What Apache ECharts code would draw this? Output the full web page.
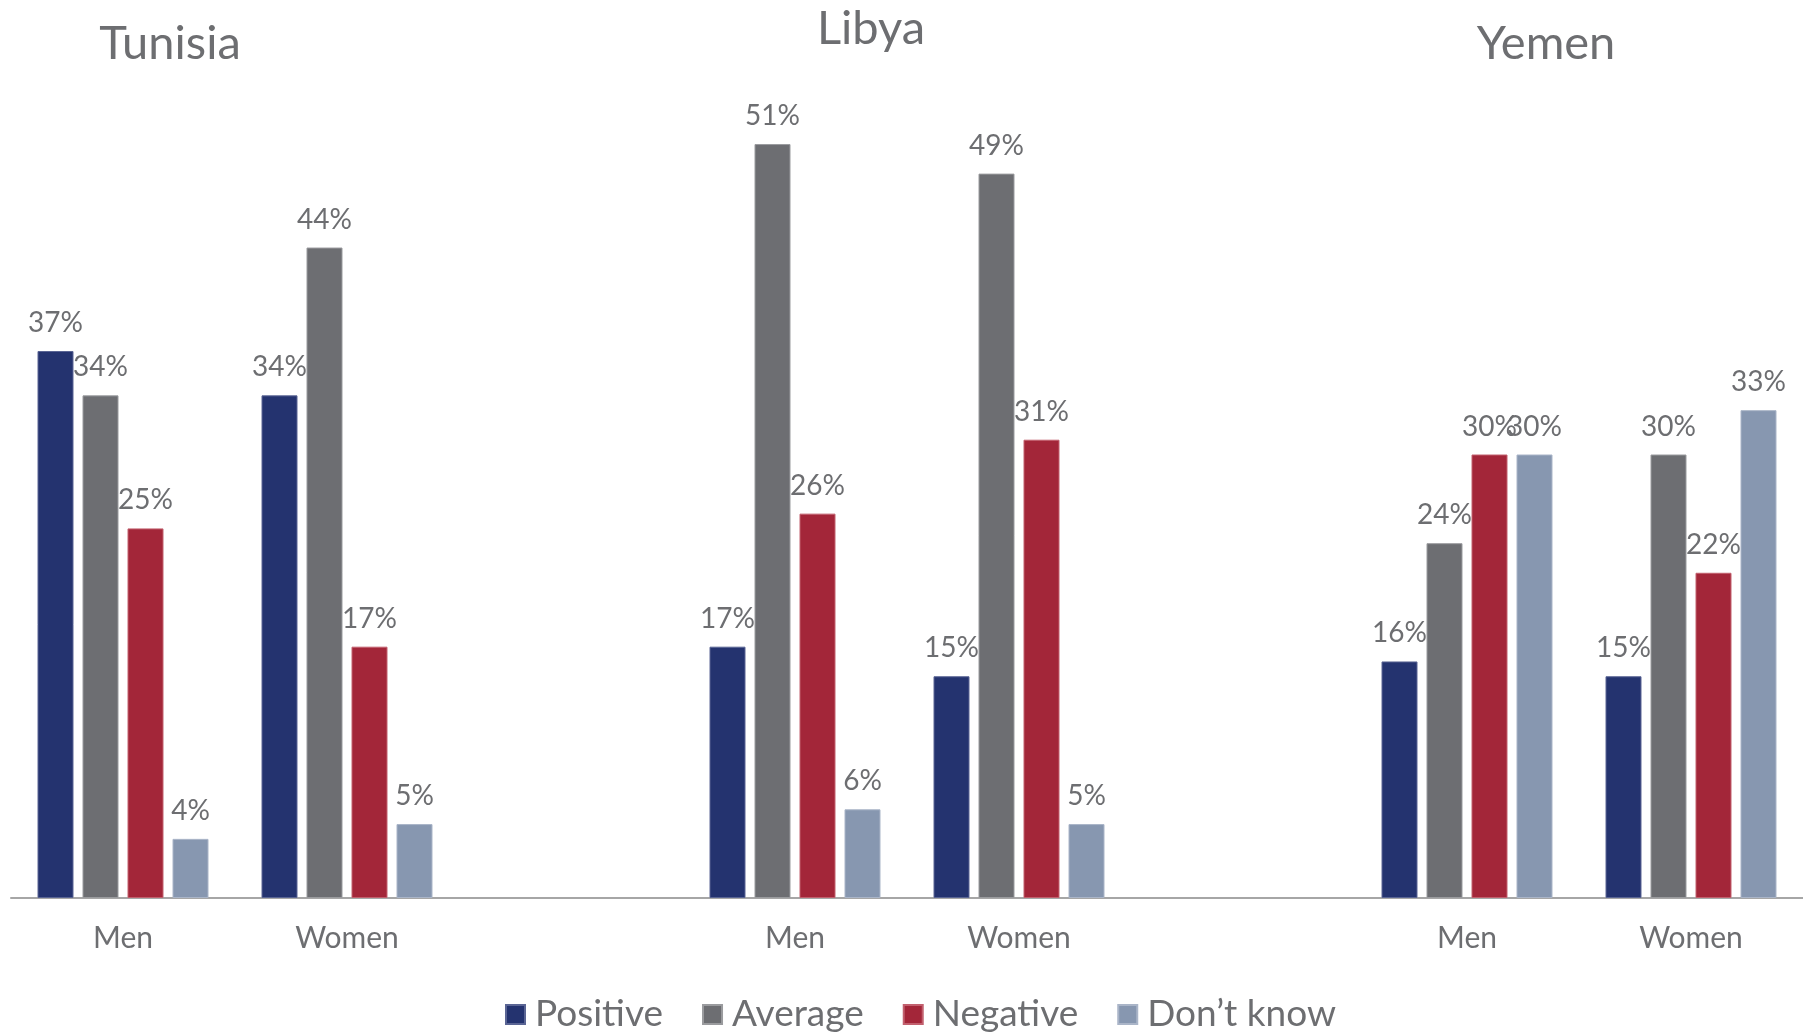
<!DOCTYPE html>
<html>
<head>
<meta charset="utf-8">
<style>
  html, body { margin: 0; padding: 0; background: #ffffff; }
  #chart { width: 1803px; height: 1034px; }
</style>
<script src="https://cdn.jsdelivr.net/npm/echarts@6/dist/echarts.min.js"></script>
</head>
<body>
<div id="chart"></div>
<script>
// Countries, shown as headings above each pair of groups
const countries = ['Tunisia', 'Libya', 'Yemen'];
// Respondent groups within each country
const groups = ['Men', 'Women'];

// Share of answers (%) per group, in order:
// Tunisia Men, Tunisia Women, Libya Men, Libya Women, Yemen Men, Yemen Women
const positive = [37, 34, 17, 15, 16, 15];
const average  = [34, 44, 51, 49, 24, 30];
const negative = [25, 17, 26, 31, 30, 22];
const dontKnow = [4, 5, 6, 5, 30, 33];

const seriesNames = ['Positive', 'Average', 'Negative', 'Don\u2019t know'];
const seriesColors = ['#24336f', '#6d6e72', '#a32639', '#8797b0'];
const seriesBorders = ['#5a6594', '#9a9b9e', '#c2606e', '#aab5c8'];

// Category axis: Men / Women per country, with an empty slot between countries
const categories = [];
countries.forEach((c, i) => {
  groups.forEach(g => categories.push(g));
  if (i < countries.length - 1) categories.push('');
});

function withGaps(values) {
  const out = [];
  countries.forEach((c, i) => {
    groups.forEach((g, j) => out.push(values[i * groups.length + j]));
    if (i < countries.length - 1) out.push(null);
  });
  return out;
}

const seriesValues = [positive, average, negative, dontKnow];

const textGray = '#6d6e71';
const font = 'Lato, "Open Sans", sans-serif';

// Heading placement for each country (center x, top y)
const headingPos = [[170, 20], [871, 5], [1546, 20]];

const chart = echarts.init(document.getElementById('chart'), null, { renderer: 'canvas' });

chart.setOption({
  backgroundColor: '#ffffff',
  animation: false,
  title: countries.map((c, i) => ({
    text: c,
    left: headingPos[i][0],
    top: headingPos[i][1],
    textAlign: 'center',
    padding: 0,
    textStyle: { color: textGray, fontFamily: font, fontSize: 47, fontWeight: 'normal' }
  })),
  legend: {
    data: seriesNames,
    left: 505,
    top: 996,
    padding: 0,
    itemWidth: 19,
    itemHeight: 19,
    itemGap: 39,
    icon: 'rect',
    textStyle: { color: textGray, fontFamily: font, fontSize: 37, padding: [0, 0, 0, 5] }
  },
  grid: { left: 11, right: 0, top: 11, bottom: 136 },
  xAxis: {
    type: 'category',
    data: categories,
    axisLine: { show: true, lineStyle: { color: '#a6a6a6', width: 2 } },
    axisTick: { show: false },
    axisLabel: { color: textGray, fontFamily: font, fontSize: 30, margin: 25, interval: 0 }
  },
  yAxis: {
    type: 'value',
    min: 0,
    max: 60,
    show: false,
    splitLine: { show: false }
  },
  series: seriesNames.map((name, k) => ({
    name: name,
    type: 'bar',
    data: withGaps(seriesValues[k]),
    barWidth: 36,
    barGap: '25%',
    itemStyle: { color: seriesColors[k], borderColor: seriesBorders[k], borderWidth: 1 },
    label: {
      show: true,
      position: 'top',
      distance: 14,
      formatter: p => (p.value == null ? '' : p.value + '%'),
      color: textGray,
      fontFamily: font,
      fontSize: 28
    }
  }))
});
</script>
</body>
</html>
